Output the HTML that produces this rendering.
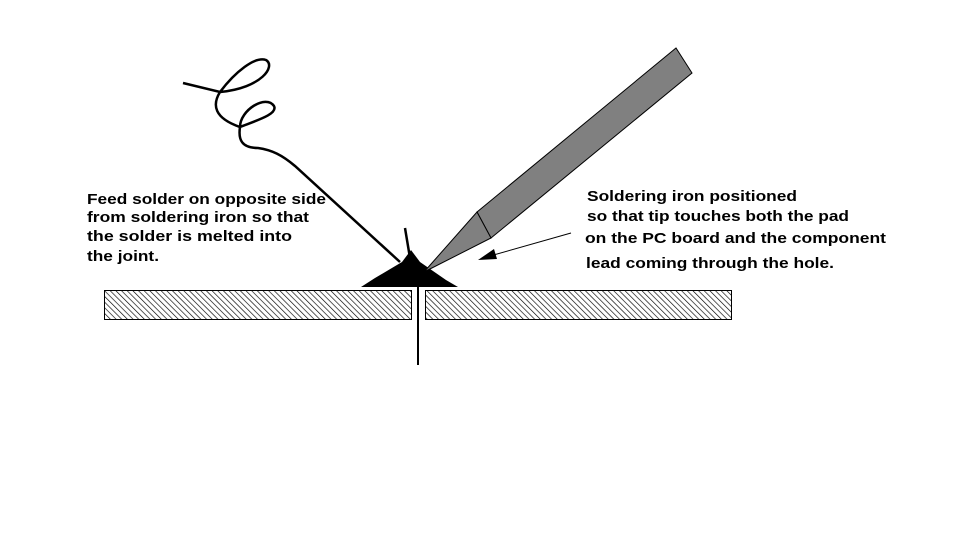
<!DOCTYPE html>
<html><head><style>html,body{margin:0;padding:0;background:#fff}</style></head>
<body>
<svg width="960" height="540" viewBox="0 0 960 540" xmlns="http://www.w3.org/2000/svg">
<defs>
<pattern id="h" width="4" height="4" patternUnits="userSpaceOnUse" patternTransform="rotate(-45)">
<rect width="4" height="4" fill="#fff"/><line x1="0" y1="0" x2="0" y2="4" stroke="#000" stroke-width="1.3"/>
</pattern>
</defs>
<rect width="960" height="540" fill="#fff"/>
<!-- board -->
<rect x="104.5" y="290.5" width="307" height="29" fill="url(#h)" stroke="#000" stroke-width="1"/>
<rect x="425.5" y="290.5" width="306" height="29" fill="url(#h)" stroke="#000" stroke-width="1"/>
<!-- lead -->
<line x1="418" y1="280" x2="418" y2="365" stroke="#000" stroke-width="2"/>
<line x1="405" y1="228" x2="410" y2="258" stroke="#000" stroke-width="2.5"/>
<!-- solder wire -->
<path d="M183,83 L220,92 C235,72 255,56 266,60 C276,66 262,88 220,92 C212,105 214,118 240,127 C258,120 278,114 274,106 C266,94 240,110 240,127 C238,140 242,148 258,148 C272,150 282,155 295,166 L400,262" fill="none" stroke="#000" stroke-width="2.5"/>
<!-- solder blob -->
<path d="M361,287 L458,287 L446,280 L420,262 L411,250 L402,262 L375,278 Z" fill="#000"/>
<!-- iron -->
<polygon points="477,212 676,48 692,73 491,238" fill="#808080" stroke="#000" stroke-width="1"/>
<polygon points="477,212 491,238 424,272" fill="#808080" stroke="#000" stroke-width="1"/>
<!-- arrow -->
<line x1="571" y1="233" x2="490" y2="256" stroke="#000" stroke-width="1"/>
<polygon points="478,260 494,249 497,259" fill="#000"/>
<g font-family="Liberation Sans, Arial, sans-serif" font-weight="bold" font-size="15" fill="#000">
<text x="87" y="204" textLength="239" lengthAdjust="spacingAndGlyphs">Feed solder on opposite side</text>
<text x="87" y="222" textLength="222" lengthAdjust="spacingAndGlyphs">from soldering iron so that</text>
<text x="87" y="241" textLength="205" lengthAdjust="spacingAndGlyphs">the solder is melted into</text>
<text x="87" y="261" textLength="72" lengthAdjust="spacingAndGlyphs">the joint.</text>
<text x="587" y="201" textLength="210" lengthAdjust="spacingAndGlyphs">Soldering iron positioned</text>
<text x="587" y="221" textLength="262" lengthAdjust="spacingAndGlyphs">so that tip touches both the pad</text>
<text x="585" y="243" textLength="301" lengthAdjust="spacingAndGlyphs">on the PC board and the component</text>
<text x="586" y="268" textLength="248" lengthAdjust="spacingAndGlyphs">lead coming through the hole.</text>
</g>
</svg>
</body></html>
